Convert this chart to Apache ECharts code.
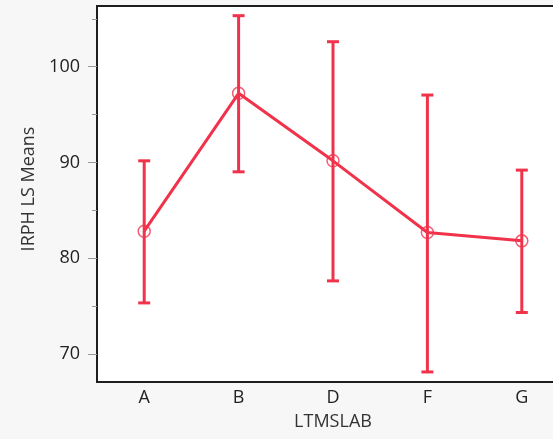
<!DOCTYPE html>
<html>
<head>
<meta charset="utf-8">
<script src="https://cdn.jsdelivr.net/npm/echarts@6/dist/echarts.min.js"></script>
<style>
  html, body { margin: 0; padding: 0; background: #f7f7f7; overflow: hidden; }
  #chart { width: 600px; height: 439px; }
</style>
</head>
<body>
<div id="chart"></div>
<script>
// LS means of IRPH by laboratory, with confidence interval bars
const categories = ['A', 'B', 'D', 'F', 'G'];
const means = [82.82, 97.22, 90.17, 82.69, 81.81];
const lower = [75.33, 89.02, 77.63, 68.12, 74.33];
const upper = [90.17, 105.33, 102.61, 97.04, 89.20];
const majorTicks = [70, 80, 90, 100];
const minorTicks = [75, 85, 95, 105];

const red = '#f0334b';
const yMin = 67.07, yMax = 106.34;
const font = 'Open Sans';

const chart = echarts.init(document.getElementById('chart'));

const barData = categories.map((c, i) => [i, lower[i], upper[i]]);

chart.setOption({
  backgroundColor: '#f7f7f7',
  animation: false,
  grid: {
    left: 97, top: 6, right: 31, bottom: 57,
    show: true, backgroundColor: '#ffffff',
    borderColor: '#1e1e1e', borderWidth: 2
  },
  xAxis: {
    type: 'category',
    data: categories,
    name: 'LTMSLAB',
    nameLocation: 'middle',
    nameGap: 31,
    nameTextStyle: { fontFamily: font, fontSize: 18, color: '#333' },
    axisLine: { lineStyle: { color: '#1e1e1e', width: 2 } },
    axisTick: { show: false },
    axisLabel: { fontFamily: font, fontSize: 18, color: '#222', margin: 7 },
    splitLine: { show: false }
  },
  yAxis: [{
    type: 'value',
    min: yMin, max: yMax,
    name: 'IRPH LS Means',
    nameLocation: 'middle',
    nameGap: 55,
    nameTextStyle: { fontFamily: font, fontSize: 18, color: '#333', padding: [0, 0, 0, 10] },
    axisLine: { show: true, lineStyle: { color: '#1e1e1e', width: 2 } },
    axisTick: { show: true, length: 9, customValues: majorTicks, lineStyle: { color: '#999', width: 1 } },
    axisLabel: { customValues: majorTicks, fontFamily: font, fontSize: 18, color: '#222', margin: 17 },
    splitLine: { show: false }
  }, {
    type: 'value',
    position: 'left',
    min: yMin, max: yMax,
    axisLine: { show: false },
    axisTick: { show: true, length: 5, customValues: minorTicks, lineStyle: { color: '#999', width: 1 } },
    axisLabel: { show: false },
    splitLine: { show: false }
  }],
  series: [{
    type: 'line',
    data: means,
    lineStyle: { color: red, width: 3 },
    symbol: 'circle',
    symbolSize: 12,
    itemStyle: { color: 'rgba(255,255,255,0)', borderColor: 'rgba(240,51,75,0.8)', borderWidth: 1.5 },
    z: 3
  }, {
    type: 'custom',
    data: barData,
    renderItem: function (params, api) {
      const x = api.value(0);
      const lo = api.coord([x, api.value(1)]);
      const hi = api.coord([x, api.value(2)]);
      const half = 6;
      const style = { stroke: red, lineWidth: 3 };
      return {
        type: 'group',
        children: [
          { type: 'line', shape: { x1: lo[0], y1: lo[1], x2: hi[0], y2: hi[1] }, style: style },
          { type: 'line', shape: { x1: lo[0] - half, y1: lo[1], x2: lo[0] + half, y2: lo[1] }, style: style },
          { type: 'line', shape: { x1: hi[0] - half, y1: hi[1], x2: hi[0] + half, y2: hi[1] }, style: style }
        ]
      };
    },
    z: 4
  }]
});
</script>
</body>
</html>
